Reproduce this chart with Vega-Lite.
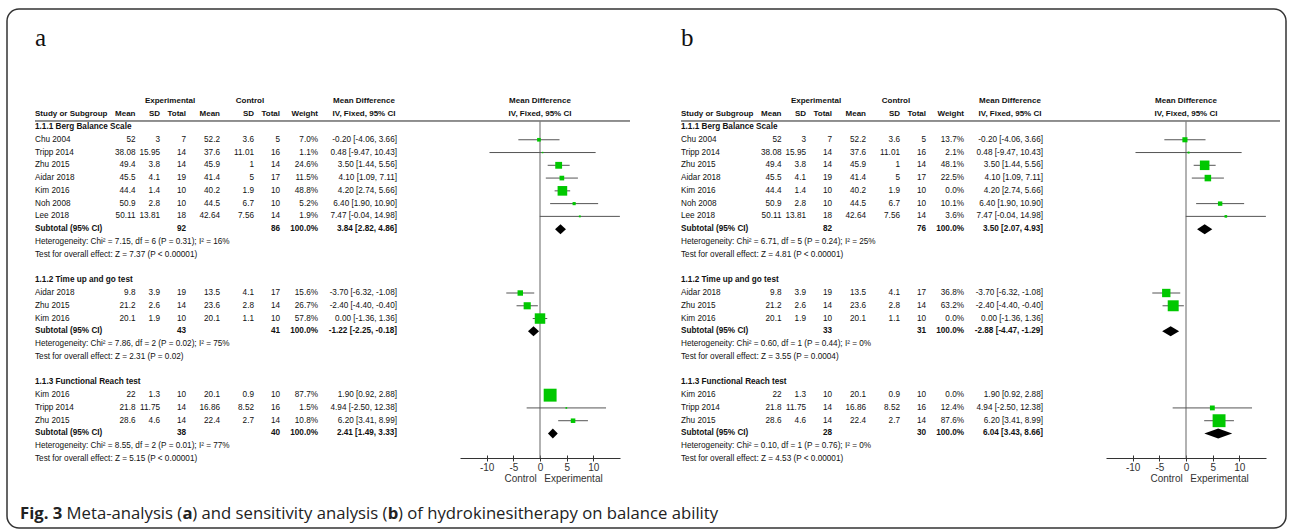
{
"$schema": "https://vega.github.io/schema/vega-lite/v6.json",
"width": 1279, "height": 519,
"autosize": "none",
"padding": {"left": 7, "top": 9, "right": 6, "bottom": 1},
"background": "white",
"config": {"view": {"stroke": "#333", "strokeWidth": 1.5, "cornerRadius": 12},
  "text": {"font": "Liberation Sans", "fontSize": 8.2, "color": "#111", "baseline": "middle"}},
"datasets": {
 "panels": [{"p": "a"}, {"p": "b"}],
 "cols": [{"key": "em", "c": 1}, {"key": "esd", "c": 2}, {"key": "en", "c": 3}, {"key": "cm", "c": 4}, {"key": "csd", "c": 5}, {"key": "cn", "c": 6}, {"key": "w", "c": 7}, {"key": "ci", "c": 8}],
 "head": [
  {"r": -2, "c": 12, "t": "Experimental", "al": "c"},
  {"r": -2, "c": 13, "t": "Control", "al": "c"},
  {"r": -2, "c": 9, "t": "Mean Difference", "al": "c"},
  {"r": -2, "c": 10, "t": "Mean Difference", "al": "c"},
  {"r": -1, "c": 0, "t": "Study or Subgroup", "al": "l"},
  {"r": -1, "c": 1, "t": "Mean", "al": "r"},
  {"r": -1, "c": 2, "t": "SD", "al": "r"},
  {"r": -1, "c": 3, "t": "Total", "al": "r"},
  {"r": -1, "c": 4, "t": "Mean", "al": "r"},
  {"r": -1, "c": 5, "t": "SD", "al": "r"},
  {"r": -1, "c": 6, "t": "Total", "al": "r"},
  {"r": -1, "c": 7, "t": "Weight", "al": "r"},
  {"r": -1, "c": 9, "t": "IV, Fixed, 95% CI", "al": "c"},
  {"r": -1, "c": 10, "t": "IV, Fixed, 95% CI", "al": "c"}
 ],
 "rows": [
  {"p":"a","r":0,"k":"group","s":"1.1.1 Berg Balance Scale"},
  {"p":"a","r":1,"k":"study","s":"Chu 2004","em":"52","esd":"3","en":"7","cm":"52.2","csd":"3.6","cn":"5","w":"7.0%","ci":"-0.20 [-4.06, 3.66]","md":-0.2,"lo":-4.06,"hi":3.66,"wt":7.0},
  {"p":"a","r":2,"k":"study","s":"Tripp 2014","em":"38.08","esd":"15.95","en":"14","cm":"37.6","csd":"11.01","cn":"16","w":"1.1%","ci":"0.48 [-9.47, 10.43]","md":0.48,"lo":-9.47,"hi":10.43,"wt":1.1},
  {"p":"a","r":3,"k":"study","s":"Zhu 2015","em":"49.4","esd":"3.8","en":"14","cm":"45.9","csd":"1","cn":"14","w":"24.6%","ci":"3.50 [1.44, 5.56]","md":3.5,"lo":1.44,"hi":5.56,"wt":24.6},
  {"p":"a","r":4,"k":"study","s":"Aidar 2018","em":"45.5","esd":"4.1","en":"19","cm":"41.4","csd":"5","cn":"17","w":"11.5%","ci":"4.10 [1.09, 7.11]","md":4.1,"lo":1.09,"hi":7.11,"wt":11.5},
  {"p":"a","r":5,"k":"study","s":"Kim 2016","em":"44.4","esd":"1.4","en":"10","cm":"40.2","csd":"1.9","cn":"10","w":"48.8%","ci":"4.20 [2.74, 5.66]","md":4.2,"lo":2.74,"hi":5.66,"wt":48.8},
  {"p":"a","r":6,"k":"study","s":"Noh 2008","em":"50.9","esd":"2.8","en":"10","cm":"44.5","csd":"6.7","cn":"10","w":"5.2%","ci":"6.40 [1.90, 10.90]","md":6.4,"lo":1.9,"hi":10.9,"wt":5.2},
  {"p":"a","r":7,"k":"study","s":"Lee 2018","em":"50.11","esd":"13.81","en":"18","cm":"42.64","csd":"7.56","cn":"14","w":"1.9%","ci":"7.47 [-0.04, 14.98]","md":7.47,"lo":-0.04,"hi":14.98,"wt":1.9},
  {"p":"a","r":8,"k":"sub","s":"Subtotal (95% CI)","en":"92","cn":"86","w":"100.0%","ci":"3.84 [2.82, 4.86]","md":3.84,"lo":2.82,"hi":4.86},
  {"p":"a","r":9,"k":"note","s":"Heterogeneity: Chi² = 7.15, df = 6 (P = 0.31); I² = 16%"},
  {"p":"a","r":10,"k":"note","s":"Test for overall effect: Z = 7.37 (P < 0.00001)"},
  {"p":"a","r":12,"k":"group","s":"1.1.2 Time up and go test"},
  {"p":"a","r":13,"k":"study","s":"Aidar 2018","em":"9.8","esd":"3.9","en":"19","cm":"13.5","csd":"4.1","cn":"17","w":"15.6%","ci":"-3.70 [-6.32, -1.08]","md":-3.7,"lo":-6.32,"hi":-1.08,"wt":15.6},
  {"p":"a","r":14,"k":"study","s":"Zhu 2015","em":"21.2","esd":"2.6","en":"14","cm":"23.6","csd":"2.8","cn":"14","w":"26.7%","ci":"-2.40 [-4.40, -0.40]","md":-2.4,"lo":-4.4,"hi":-0.4,"wt":26.7},
  {"p":"a","r":15,"k":"study","s":"Kim 2016","em":"20.1","esd":"1.9","en":"10","cm":"20.1","csd":"1.1","cn":"10","w":"57.8%","ci":"0.00 [-1.36, 1.36]","md":0,"lo":-1.36,"hi":1.36,"wt":57.8},
  {"p":"a","r":16,"k":"sub","s":"Subtotal (95% CI)","en":"43","cn":"41","w":"100.0%","ci":"-1.22 [-2.25, -0.18]","md":-1.22,"lo":-2.25,"hi":-0.18},
  {"p":"a","r":17,"k":"note","s":"Heterogeneity: Chi² = 7.86, df = 2 (P = 0.02); I² = 75%"},
  {"p":"a","r":18,"k":"note","s":"Test for overall effect: Z = 2.31 (P = 0.02)"},
  {"p":"a","r":20,"k":"group","s":"1.1.3 Functional Reach test"},
  {"p":"a","r":21,"k":"study","s":"Kim 2016","em":"22","esd":"1.3","en":"10","cm":"20.1","csd":"0.9","cn":"10","w":"87.7%","ci":"1.90 [0.92, 2.88]","md":1.9,"lo":0.92,"hi":2.88,"wt":87.7},
  {"p":"a","r":22,"k":"study","s":"Tripp 2014","em":"21.8","esd":"11.75","en":"14","cm":"16.86","csd":"8.52","cn":"16","w":"1.5%","ci":"4.94 [-2.50, 12.38]","md":4.94,"lo":-2.5,"hi":12.38,"wt":1.5},
  {"p":"a","r":23,"k":"study","s":"Zhu 2015","em":"28.6","esd":"4.6","en":"14","cm":"22.4","csd":"2.7","cn":"14","w":"10.8%","ci":"6.20 [3.41, 8.99]","md":6.2,"lo":3.41,"hi":8.99,"wt":10.8},
  {"p":"a","r":24,"k":"sub","s":"Subtotal (95% CI)","en":"38","cn":"40","w":"100.0%","ci":"2.41 [1.49, 3.33]","md":2.41,"lo":1.49,"hi":3.33},
  {"p":"a","r":25,"k":"note","s":"Heterogeneity: Chi² = 8.55, df = 2 (P = 0.01); I² = 77%"},
  {"p":"a","r":26,"k":"note","s":"Test for overall effect: Z = 5.15 (P < 0.00001)"},
  {"p":"b","r":0,"k":"group","s":"1.1.1 Berg Balance Scale"},
  {"p":"b","r":1,"k":"study","s":"Chu 2004","em":"52","esd":"3","en":"7","cm":"52.2","csd":"3.6","cn":"5","w":"13.7%","ci":"-0.20 [-4.06, 3.66]","md":-0.2,"lo":-4.06,"hi":3.66,"wt":13.7},
  {"p":"b","r":2,"k":"study","s":"Tripp 2014","em":"38.08","esd":"15.95","en":"14","cm":"37.6","csd":"11.01","cn":"16","w":"2.1%","ci":"0.48 [-9.47, 10.43]","md":0.48,"lo":-9.47,"hi":10.43,"wt":2.1},
  {"p":"b","r":3,"k":"study","s":"Zhu 2015","em":"49.4","esd":"3.8","en":"14","cm":"45.9","csd":"1","cn":"14","w":"48.1%","ci":"3.50 [1.44, 5.56]","md":3.5,"lo":1.44,"hi":5.56,"wt":48.1},
  {"p":"b","r":4,"k":"study","s":"Aidar 2018","em":"45.5","esd":"4.1","en":"19","cm":"41.4","csd":"5","cn":"17","w":"22.5%","ci":"4.10 [1.09, 7.11]","md":4.1,"lo":1.09,"hi":7.11,"wt":22.5},
  {"p":"b","r":5,"k":"study","s":"Kim 2016","em":"44.4","esd":"1.4","en":"10","cm":"40.2","csd":"1.9","cn":"10","w":"0.0%","ci":"4.20 [2.74, 5.66]","md":4.2,"lo":2.74,"hi":5.66,"wt":0},
  {"p":"b","r":6,"k":"study","s":"Noh 2008","em":"50.9","esd":"2.8","en":"10","cm":"44.5","csd":"6.7","cn":"10","w":"10.1%","ci":"6.40 [1.90, 10.90]","md":6.4,"lo":1.9,"hi":10.9,"wt":10.1},
  {"p":"b","r":7,"k":"study","s":"Lee 2018","em":"50.11","esd":"13.81","en":"18","cm":"42.64","csd":"7.56","cn":"14","w":"3.6%","ci":"7.47 [-0.04, 14.98]","md":7.47,"lo":-0.04,"hi":14.98,"wt":3.6},
  {"p":"b","r":8,"k":"sub","s":"Subtotal (95% CI)","en":"82","cn":"76","w":"100.0%","ci":"3.50 [2.07, 4.93]","md":3.5,"lo":2.07,"hi":4.93},
  {"p":"b","r":9,"k":"note","s":"Heterogeneity: Chi² = 6.71, df = 5 (P = 0.24); I² = 25%"},
  {"p":"b","r":10,"k":"note","s":"Test for overall effect: Z = 4.81 (P < 0.00001)"},
  {"p":"b","r":12,"k":"group","s":"1.1.2 Time up and go test"},
  {"p":"b","r":13,"k":"study","s":"Aidar 2018","em":"9.8","esd":"3.9","en":"19","cm":"13.5","csd":"4.1","cn":"17","w":"36.8%","ci":"-3.70 [-6.32, -1.08]","md":-3.7,"lo":-6.32,"hi":-1.08,"wt":36.8},
  {"p":"b","r":14,"k":"study","s":"Zhu 2015","em":"21.2","esd":"2.6","en":"14","cm":"23.6","csd":"2.8","cn":"14","w":"63.2%","ci":"-2.40 [-4.40, -0.40]","md":-2.4,"lo":-4.4,"hi":-0.4,"wt":63.2},
  {"p":"b","r":15,"k":"study","s":"Kim 2016","em":"20.1","esd":"1.9","en":"10","cm":"20.1","csd":"1.1","cn":"10","w":"0.0%","ci":"0.00 [-1.36, 1.36]","md":0,"lo":-1.36,"hi":1.36,"wt":0},
  {"p":"b","r":16,"k":"sub","s":"Subtotal (95% CI)","en":"33","cn":"31","w":"100.0%","ci":"-2.88 [-4.47, -1.29]","md":-2.88,"lo":-4.47,"hi":-1.29},
  {"p":"b","r":17,"k":"note","s":"Heterogeneity: Chi² = 0.60, df = 1 (P = 0.44); I² = 0%"},
  {"p":"b","r":18,"k":"note","s":"Test for overall effect: Z = 3.55 (P = 0.0004)"},
  {"p":"b","r":20,"k":"group","s":"1.1.3 Functional Reach test"},
  {"p":"b","r":21,"k":"study","s":"Kim 2016","em":"22","esd":"1.3","en":"10","cm":"20.1","csd":"0.9","cn":"10","w":"0.0%","ci":"1.90 [0.92, 2.88]","md":1.9,"lo":0.92,"hi":2.88,"wt":0},
  {"p":"b","r":22,"k":"study","s":"Tripp 2014","em":"21.8","esd":"11.75","en":"14","cm":"16.86","csd":"8.52","cn":"16","w":"12.4%","ci":"4.94 [-2.50, 12.38]","md":4.94,"lo":-2.5,"hi":12.38,"wt":12.4},
  {"p":"b","r":23,"k":"study","s":"Zhu 2015","em":"28.6","esd":"4.6","en":"14","cm":"22.4","csd":"2.7","cn":"14","w":"87.6%","ci":"6.20 [3.41, 8.99]","md":6.2,"lo":3.41,"hi":8.99,"wt":87.6},
  {"p":"b","r":24,"k":"sub","s":"Subtotal (95% CI)","en":"28","cn":"30","w":"100.0%","ci":"6.04 [3.43, 8.66]","md":6.04,"lo":3.43,"hi":8.66},
  {"p":"b","r":25,"k":"note","s":"Heterogeneity: Chi² = 0.10, df = 1 (P = 0.76); I² = 0%"},
  {"p":"b","r":26,"k":"note","s":"Test for overall effect: Z = 4.53 (P < 0.00001)"}
 ]
},
"resolve": {"scale": {"x": "independent"}, "axis": {"x": "independent"}},
"layer": [
 {"data": {"name": "panels"}, "transform": [{"filter": "datum.p=='a'"}],
  "mark": {"type": "text", "font": "Liberation Serif", "fontSize": 25, "align": "left", "color": "#111"},
  "encoding": {"x": {"datum": 0, "type": "quantitative", "scale": {"type": "linear", "domain": [0,1,2,3,4,5,6,7,8,9,10,11,12,13], "range": [28,128.5,153,179,213,247,273,311,390,357,533,623,163,243], "nice": false, "zero": false}, "axis": null},
   "y": {"datum": -7.0, "type": "quantitative", "scale": {"domain": [-9.24, 31.402], "range": [0, 519], "nice": false, "zero": false}, "axis": null}, "text": {"field": "p"}}},
 {"data": {"name": "panels"}, "transform": [{"filter": "datum.p=='b'"}],
  "mark": {"type": "text", "font": "Liberation Serif", "fontSize": 25, "align": "left", "color": "#111"},
  "encoding": {"x": {"datum": 0, "type": "quantitative", "scale": {"type": "linear", "domain": [0,1,2,3,4,5,6,7,8,9,10,11,12,13], "range": [674,774.5,799,825,859,893,919,957,1036,1003,1179,1273,809,889], "nice": false, "zero": false}, "axis": null},
   "y": {"datum": -7.0, "type": "quantitative", "axis": null}, "text": {"field": "p"}}},

 {"data": {"name": "panels"}, "transform": [{"filter": "datum.p=='a'"}],
  "mark": {"type": "rule", "color": "#222", "strokeWidth": 1},
  "encoding": {"x": {"datum": 0, "type": "quantitative", "scale": {"type": "linear", "domain": [0,1,2,3,4,5,6,7,8,9,10,11,12,13], "range": [28,128.5,153,179,213,247,273,311,390,357,533,623,163,243], "nice": false, "zero": false}, "axis": null},
   "x2": {"datum": 11}, "y": {"datum": -0.47, "type": "quantitative", "axis": null}}},
 {"data": {"name": "panels"}, "transform": [{"filter": "datum.p=='b'"}],
  "mark": {"type": "rule", "color": "#222", "strokeWidth": 1},
  "encoding": {"x": {"datum": 0, "type": "quantitative", "scale": {"type": "linear", "domain": [0,1,2,3,4,5,6,7,8,9,10,11,12,13], "range": [674,774.5,799,825,859,893,919,957,1036,1003,1179,1273,809,889], "nice": false, "zero": false}, "axis": null},
   "x2": {"datum": 11}, "y": {"datum": -0.47, "type": "quantitative", "axis": null}}},

 {"data": {"name": "head"}, "transform": [{"filter": "datum.al=='l'"}],
  "mark": {"type": "text", "fontWeight": "bold", "align": "left", "fontSize": 8},
  "encoding": {"x": {"field": "c", "type": "quantitative", "scale": {"type": "linear", "domain": [0,1,2,3,4,5,6,7,8,9,10,11,12,13], "range": [28,128.5,153,179,213,247,273,311,390,357,533,623,163,243], "nice": false, "zero": false}, "axis": null},
   "y": {"field": "r", "type": "quantitative", "axis": null}, "text": {"field": "t"}}},
 {"data": {"name": "head"}, "transform": [{"filter": "datum.al=='r'"}],
  "mark": {"type": "text", "fontWeight": "bold", "align": "right", "fontSize": 8},
  "encoding": {"x": {"field": "c", "type": "quantitative", "scale": {"type": "linear", "domain": [0,1,2,3,4,5,6,7,8,9,10,11,12,13], "range": [28,128.5,153,179,213,247,273,311,390,357,533,623,163,243], "nice": false, "zero": false}, "axis": null},
   "y": {"field": "r", "type": "quantitative", "axis": null}, "text": {"field": "t"}}},
 {"data": {"name": "head"}, "transform": [{"filter": "datum.al=='c'"}],
  "mark": {"type": "text", "fontWeight": "bold", "align": "center", "fontSize": 8},
  "encoding": {"x": {"field": "c", "type": "quantitative", "scale": {"type": "linear", "domain": [0,1,2,3,4,5,6,7,8,9,10,11,12,13], "range": [28,128.5,153,179,213,247,273,311,390,357,533,623,163,243], "nice": false, "zero": false}, "axis": null},
   "y": {"field": "r", "type": "quantitative", "axis": null}, "text": {"field": "t"}}},
 {"data": {"name": "head"}, "transform": [{"filter": "datum.al=='l'"}],
  "mark": {"type": "text", "fontWeight": "bold", "align": "left", "fontSize": 8},
  "encoding": {"x": {"field": "c", "type": "quantitative", "scale": {"type": "linear", "domain": [0,1,2,3,4,5,6,7,8,9,10,11,12,13], "range": [674,774.5,799,825,859,893,919,957,1036,1003,1179,1273,809,889], "nice": false, "zero": false}, "axis": null},
   "y": {"field": "r", "type": "quantitative", "axis": null}, "text": {"field": "t"}}},
 {"data": {"name": "head"}, "transform": [{"filter": "datum.al=='r'"}],
  "mark": {"type": "text", "fontWeight": "bold", "align": "right", "fontSize": 8},
  "encoding": {"x": {"field": "c", "type": "quantitative", "scale": {"type": "linear", "domain": [0,1,2,3,4,5,6,7,8,9,10,11,12,13], "range": [674,774.5,799,825,859,893,919,957,1036,1003,1179,1273,809,889], "nice": false, "zero": false}, "axis": null},
   "y": {"field": "r", "type": "quantitative", "axis": null}, "text": {"field": "t"}}},
 {"data": {"name": "head"}, "transform": [{"filter": "datum.al=='c'"}],
  "mark": {"type": "text", "fontWeight": "bold", "align": "center", "fontSize": 8},
  "encoding": {"x": {"field": "c", "type": "quantitative", "scale": {"type": "linear", "domain": [0,1,2,3,4,5,6,7,8,9,10,11,12,13], "range": [674,774.5,799,825,859,893,919,957,1036,1003,1179,1273,809,889], "nice": false, "zero": false}, "axis": null},
   "y": {"field": "r", "type": "quantitative", "axis": null}, "text": {"field": "t"}}},

 {"data": {"name": "rows"}, "transform": [{"filter": "datum.p=='a' && (datum.k=='study' || datum.k=='note')"}],
  "mark": {"type": "text", "align": "left"},
  "encoding": {"x": {"datum": 0, "type": "quantitative", "scale": {"type": "linear", "domain": [0,1,2,3,4,5,6,7,8,9,10,11,12,13], "range": [28,128.5,153,179,213,247,273,311,390,357,533,623,163,243], "nice": false, "zero": false}, "axis": null},
   "y": {"field": "r", "type": "quantitative", "axis": null}, "text": {"field": "s"}}},
 {"data": {"name": "rows"}, "transform": [{"filter": "datum.p=='a' && (datum.k=='group' || datum.k=='sub')"}],
  "mark": {"type": "text", "align": "left", "fontWeight": "bold"},
  "encoding": {"x": {"datum": 0, "type": "quantitative", "scale": {"type": "linear", "domain": [0,1,2,3,4,5,6,7,8,9,10,11,12,13], "range": [28,128.5,153,179,213,247,273,311,390,357,533,623,163,243], "nice": false, "zero": false}, "axis": null},
   "y": {"field": "r", "type": "quantitative", "axis": null}, "text": {"field": "s"}}},
 {"data": {"name": "rows"}, "transform": [{"filter": "datum.p=='a' && datum.k=='study'"}, {"fold": ["em","esd","en","cm","csd","cn","w","ci"], "as": ["key","t"]}, {"filter": "isValid(datum.t)"}, {"lookup": "key", "from": {"data": {"name": "cols"}, "key": "key", "fields": ["c"]}}],
  "mark": {"type": "text", "align": "right"},
  "encoding": {"x": {"field": "c", "type": "quantitative", "scale": {"type": "linear", "domain": [0,1,2,3,4,5,6,7,8,9,10,11,12,13], "range": [28,128.5,153,179,213,247,273,311,390,357,533,623,163,243], "nice": false, "zero": false}, "axis": null},
   "y": {"field": "r", "type": "quantitative", "axis": null}, "text": {"field": "t"}}},
 {"data": {"name": "rows"}, "transform": [{"filter": "datum.p=='a' && datum.k=='sub'"}, {"fold": ["em","esd","en","cm","csd","cn","w","ci"], "as": ["key","t"]}, {"filter": "isValid(datum.t)"}, {"lookup": "key", "from": {"data": {"name": "cols"}, "key": "key", "fields": ["c"]}}],
  "mark": {"type": "text", "align": "right", "fontWeight": "bold"},
  "encoding": {"x": {"field": "c", "type": "quantitative", "scale": {"type": "linear", "domain": [0,1,2,3,4,5,6,7,8,9,10,11,12,13], "range": [28,128.5,153,179,213,247,273,311,390,357,533,623,163,243], "nice": false, "zero": false}, "axis": null},
   "y": {"field": "r", "type": "quantitative", "axis": null}, "text": {"field": "t"}}},

 {"data": {"name": "rows"}, "transform": [{"filter": "datum.p=='b' && (datum.k=='study' || datum.k=='note')"}],
  "mark": {"type": "text", "align": "left"},
  "encoding": {"x": {"datum": 0, "type": "quantitative", "scale": {"type": "linear", "domain": [0,1,2,3,4,5,6,7,8,9,10,11,12,13], "range": [674,774.5,799,825,859,893,919,957,1036,1003,1179,1273,809,889], "nice": false, "zero": false}, "axis": null},
   "y": {"field": "r", "type": "quantitative", "axis": null}, "text": {"field": "s"}}},
 {"data": {"name": "rows"}, "transform": [{"filter": "datum.p=='b' && (datum.k=='group' || datum.k=='sub')"}],
  "mark": {"type": "text", "align": "left", "fontWeight": "bold"},
  "encoding": {"x": {"datum": 0, "type": "quantitative", "scale": {"type": "linear", "domain": [0,1,2,3,4,5,6,7,8,9,10,11,12,13], "range": [674,774.5,799,825,859,893,919,957,1036,1003,1179,1273,809,889], "nice": false, "zero": false}, "axis": null},
   "y": {"field": "r", "type": "quantitative", "axis": null}, "text": {"field": "s"}}},
 {"data": {"name": "rows"}, "transform": [{"filter": "datum.p=='b' && datum.k=='study'"}, {"fold": ["em","esd","en","cm","csd","cn","w","ci"], "as": ["key","t"]}, {"filter": "isValid(datum.t)"}, {"lookup": "key", "from": {"data": {"name": "cols"}, "key": "key", "fields": ["c"]}}],
  "mark": {"type": "text", "align": "right"},
  "encoding": {"x": {"field": "c", "type": "quantitative", "scale": {"type": "linear", "domain": [0,1,2,3,4,5,6,7,8,9,10,11,12,13], "range": [674,774.5,799,825,859,893,919,957,1036,1003,1179,1273,809,889], "nice": false, "zero": false}, "axis": null},
   "y": {"field": "r", "type": "quantitative", "axis": null}, "text": {"field": "t"}}},
 {"data": {"name": "rows"}, "transform": [{"filter": "datum.p=='b' && datum.k=='sub'"}, {"fold": ["em","esd","en","cm","csd","cn","w","ci"], "as": ["key","t"]}, {"filter": "isValid(datum.t)"}, {"lookup": "key", "from": {"data": {"name": "cols"}, "key": "key", "fields": ["c"]}}],
  "mark": {"type": "text", "align": "right", "fontWeight": "bold"},
  "encoding": {"x": {"field": "c", "type": "quantitative", "scale": {"type": "linear", "domain": [0,1,2,3,4,5,6,7,8,9,10,11,12,13], "range": [674,774.5,799,825,859,893,919,957,1036,1003,1179,1273,809,889], "nice": false, "zero": false}, "axis": null},
   "y": {"field": "r", "type": "quantitative", "axis": null}, "text": {"field": "t"}}},

 {"data": {"name": "panels"}, "transform": [{"filter": "datum.p=='a'"}],
  "mark": {"type": "rule", "color": "#7f7f7f", "strokeWidth": 1.2},
  "encoding": {"x": {"datum": 0, "type": "quantitative", "scale": {"type": "linear", "domain": [-15, 15], "range": [453, 613], "nice": false, "zero": false}, "axis": null},
   "y": {"datum": -0.47, "type": "quantitative", "axis": null}, "y2": {"datum": 25.92}}},
 {"data": {"name": "rows"}, "transform": [{"filter": "datum.p=='a' && datum.k=='study' && datum.wt > 0"}],
  "mark": {"type": "rule", "color": "#555", "strokeWidth": 1},
  "encoding": {"x": {"field": "lo", "type": "quantitative", "scale": {"type": "linear", "domain": [-15, 15], "range": [453, 613], "nice": false, "zero": false},
    "axis": {"orient": "bottom", "offset": -70, "values": [-10, -5, 0, 5, 10], "labelExpr": "datum.value + ''", "grid": false, "title": null, "domainColor": "#333", "domainWidth": 1, "tickColor": "#333", "tickWidth": 1, "tickSize": 3, "labelFont": "Liberation Sans", "labelFontSize": 10, "labelColor": "#333", "labelPadding": 1, "labelFlush": false, "labelOverlap": false}},
   "x2": {"field": "hi"}, "y": {"field": "r", "type": "quantitative", "axis": null}}},
 {"data": {"name": "rows"}, "transform": [{"filter": "datum.p=='a' && datum.k=='study' && datum.wt > 0"}],
  "mark": {"type": "point", "shape": "square", "filled": true, "color": "#00c800", "opacity": 1},
  "encoding": {"x": {"field": "md", "type": "quantitative", "scale": {"type": "linear", "domain": [-15, 15], "range": [453, 613], "nice": false, "zero": false},
    "axis": {"orient": "bottom", "offset": -70, "values": [-10, -5, 0, 5, 10], "labels": false, "domain": false, "grid": false, "title": null, "tickColor": "#333", "tickWidth": 1, "tickSize": -3}},
   "y": {"field": "r", "type": "quantitative", "axis": null},
   "size": {"field": "wt", "type": "quantitative", "scale": {"domain": [0, 100], "range": [0, 190], "zero": true}, "legend": null}}},
 {"data": {"name": "rows"}, "transform": [{"filter": "datum.p=='a' && datum.k=='sub'"}, {"fold": ["lo","md","hi"], "as": ["key","v"]}],
  "mark": {"type": "area", "orient": "vertical", "color": "#000", "opacity": 1, "yOffset": {"expr": "datum.key=='md' ? -5 : 0"}, "y2Offset": {"expr": "datum.key=='md' ? 5 : 0"}},
  "encoding": {"x": {"field": "v", "type": "quantitative", "scale": {"type": "linear", "domain": [-15, 15], "range": [453, 613], "nice": false, "zero": false}, "axis": null},
   "y": {"field": "r", "type": "quantitative", "axis": null}, "y2": {"field": "r"}, "detail": {"field": "r"}}},
 {"data": {"name": "panels"}, "transform": [{"filter": "datum.p=='a'"}],
  "mark": {"type": "text", "text": "Control", "align": "right", "dx": -3.3, "font": "Liberation Sans", "fontSize": 10, "color": "#333"},
  "encoding": {"x": {"datum": 0, "type": "quantitative", "scale": {"type": "linear", "domain": [-15, 15], "range": [453, 613], "nice": false, "zero": false}, "axis": null},
   "y": {"datum": 27.56, "type": "quantitative", "axis": null}}},
 {"data": {"name": "panels"}, "transform": [{"filter": "datum.p=='a'"}],
  "mark": {"type": "text", "text": "Experimental", "align": "left", "dx": 4.3, "font": "Liberation Sans", "fontSize": 10, "color": "#333"},
  "encoding": {"x": {"datum": 0, "type": "quantitative", "scale": {"type": "linear", "domain": [-15, 15], "range": [453, 613], "nice": false, "zero": false}, "axis": null},
   "y": {"datum": 27.56, "type": "quantitative", "axis": null}}},

 {"data": {"name": "panels"}, "transform": [{"filter": "datum.p=='b'"}],
  "mark": {"type": "rule", "color": "#7f7f7f", "strokeWidth": 1.2},
  "encoding": {"x": {"datum": 0, "type": "quantitative", "scale": {"type": "linear", "domain": [-15, 15], "range": [1099, 1259], "nice": false, "zero": false}, "axis": null},
   "y": {"datum": -0.47, "type": "quantitative", "axis": null}, "y2": {"datum": 25.92}}},
 {"data": {"name": "rows"}, "transform": [{"filter": "datum.p=='b' && datum.k=='study' && datum.wt > 0"}],
  "mark": {"type": "rule", "color": "#555", "strokeWidth": 1},
  "encoding": {"x": {"field": "lo", "type": "quantitative", "scale": {"type": "linear", "domain": [-15, 15], "range": [1099, 1259], "nice": false, "zero": false},
    "axis": {"orient": "bottom", "offset": -70, "values": [-10, -5, 0, 5, 10], "labelExpr": "datum.value + ''", "grid": false, "title": null, "domainColor": "#333", "domainWidth": 1, "tickColor": "#333", "tickWidth": 1, "tickSize": 3, "labelFont": "Liberation Sans", "labelFontSize": 10, "labelColor": "#333", "labelPadding": 1, "labelFlush": false, "labelOverlap": false}},
   "x2": {"field": "hi"}, "y": {"field": "r", "type": "quantitative", "axis": null}}},
 {"data": {"name": "rows"}, "transform": [{"filter": "datum.p=='b' && datum.k=='study' && datum.wt > 0"}],
  "mark": {"type": "point", "shape": "square", "filled": true, "color": "#00c800", "opacity": 1},
  "encoding": {"x": {"field": "md", "type": "quantitative", "scale": {"type": "linear", "domain": [-15, 15], "range": [1099, 1259], "nice": false, "zero": false},
    "axis": {"orient": "bottom", "offset": -70, "values": [-10, -5, 0, 5, 10], "labels": false, "domain": false, "grid": false, "title": null, "tickColor": "#333", "tickWidth": 1, "tickSize": -3}},
   "y": {"field": "r", "type": "quantitative", "axis": null},
   "size": {"field": "wt", "type": "quantitative", "scale": {"domain": [0, 100], "range": [0, 190], "zero": true}, "legend": null}}},
 {"data": {"name": "rows"}, "transform": [{"filter": "datum.p=='b' && datum.k=='sub'"}, {"fold": ["lo","md","hi"], "as": ["key","v"]}],
  "mark": {"type": "area", "orient": "vertical", "color": "#000", "opacity": 1, "yOffset": {"expr": "datum.key=='md' ? -5 : 0"}, "y2Offset": {"expr": "datum.key=='md' ? 5 : 0"}},
  "encoding": {"x": {"field": "v", "type": "quantitative", "scale": {"type": "linear", "domain": [-15, 15], "range": [1099, 1259], "nice": false, "zero": false}, "axis": null},
   "y": {"field": "r", "type": "quantitative", "axis": null}, "y2": {"field": "r"}, "detail": {"field": "r"}}},
 {"data": {"name": "panels"}, "transform": [{"filter": "datum.p=='b'"}],
  "mark": {"type": "text", "text": "Control", "align": "right", "dx": -3.3, "font": "Liberation Sans", "fontSize": 10, "color": "#333"},
  "encoding": {"x": {"datum": 0, "type": "quantitative", "scale": {"type": "linear", "domain": [-15, 15], "range": [1099, 1259], "nice": false, "zero": false}, "axis": null},
   "y": {"datum": 27.56, "type": "quantitative", "axis": null}}},
 {"data": {"name": "panels"}, "transform": [{"filter": "datum.p=='b'"}],
  "mark": {"type": "text", "text": "Experimental", "align": "left", "dx": 4.3, "font": "Liberation Sans", "fontSize": 10, "color": "#333"},
  "encoding": {"x": {"datum": 0, "type": "quantitative", "scale": {"type": "linear", "domain": [-15, 15], "range": [1099, 1259], "nice": false, "zero": false}, "axis": null},
   "y": {"datum": 27.56, "type": "quantitative", "axis": null}}},

 {"data": {"name": "panels"}, "transform": [{"filter": "datum.p=='a'"}],
  "mark": {"type": "text", "text": "Fig. 3", "font": "Open Sans", "fontSize": 16.7, "fontWeight": "bold", "align": "left", "dx": -15, "color": "#222"},
  "encoding": {"x": {"datum": 0, "type": "quantitative", "scale": {"type": "linear", "domain": [0,1,2,3,4,5,6,7,8,9,10,11,12,13], "range": [28,128.5,153,179,213,247,273,311,390,357,533,623,163,243], "nice": false, "zero": false}, "axis": null},
   "y": {"datum": 30.31, "type": "quantitative", "axis": null}}},
 {"data": {"name": "panels"}, "transform": [{"filter": "datum.p=='a'"}],
  "mark": {"type": "text", "text": "Meta-analysis (", "font": "Open Sans", "fontSize": 16.7, "align": "left", "dx": 31.6, "color": "#222"},
  "encoding": {"x": {"datum": 0, "type": "quantitative", "scale": {"type": "linear", "domain": [0,1,2,3,4,5,6,7,8,9,10,11,12,13], "range": [28,128.5,153,179,213,247,273,311,390,357,533,623,163,243], "nice": false, "zero": false}, "axis": null},
   "y": {"datum": 30.31, "type": "quantitative", "axis": null}}},
 {"data": {"name": "panels"}, "transform": [{"filter": "datum.p=='a'"}],
  "mark": {"type": "text", "text": "a", "font": "Open Sans", "fontSize": 16.7, "fontWeight": "bold", "align": "left", "dx": 147.5, "color": "#222"},
  "encoding": {"x": {"datum": 0, "type": "quantitative", "scale": {"type": "linear", "domain": [0,1,2,3,4,5,6,7,8,9,10,11,12,13], "range": [28,128.5,153,179,213,247,273,311,390,357,533,623,163,243], "nice": false, "zero": false}, "axis": null},
   "y": {"datum": 30.31, "type": "quantitative", "axis": null}}},
 {"data": {"name": "panels"}, "transform": [{"filter": "datum.p=='a'"}],
  "mark": {"type": "text", "text": ") and sensitivity analysis (", "font": "Open Sans", "fontSize": 16.7, "align": "left", "dx": 157.3, "color": "#222"},
  "encoding": {"x": {"datum": 0, "type": "quantitative", "scale": {"type": "linear", "domain": [0,1,2,3,4,5,6,7,8,9,10,11,12,13], "range": [28,128.5,153,179,213,247,273,311,390,357,533,623,163,243], "nice": false, "zero": false}, "axis": null},
   "y": {"datum": 30.31, "type": "quantitative", "axis": null}}},
 {"data": {"name": "panels"}, "transform": [{"filter": "datum.p=='a'"}],
  "mark": {"type": "text", "text": "b", "font": "Open Sans", "fontSize": 16.7, "fontWeight": "bold", "align": "left", "dx": 352.7, "color": "#222"},
  "encoding": {"x": {"datum": 0, "type": "quantitative", "scale": {"type": "linear", "domain": [0,1,2,3,4,5,6,7,8,9,10,11,12,13], "range": [28,128.5,153,179,213,247,273,311,390,357,533,623,163,243], "nice": false, "zero": false}, "axis": null},
   "y": {"datum": 30.31, "type": "quantitative", "axis": null}}},
 {"data": {"name": "panels"}, "transform": [{"filter": "datum.p=='a'"}],
  "mark": {"type": "text", "text": ") of hydrokinesitherapy on balance ability", "font": "Open Sans", "fontSize": 16.7, "align": "left", "dx": 363, "color": "#222"},
  "encoding": {"x": {"datum": 0, "type": "quantitative", "scale": {"type": "linear", "domain": [0,1,2,3,4,5,6,7,8,9,10,11,12,13], "range": [28,128.5,153,179,213,247,273,311,390,357,533,623,163,243], "nice": false, "zero": false}, "axis": null},
   "y": {"datum": 30.31, "type": "quantitative", "axis": null}}}
]
}
